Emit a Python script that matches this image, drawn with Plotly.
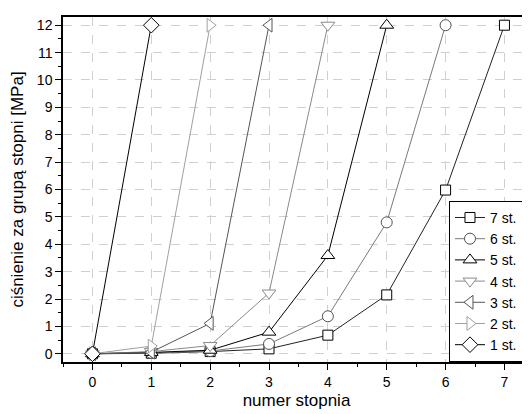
import plotly.graph_objects as go

names = ["7 st.", "6 st.", "5 st.", "4 st.", "3 st.", "2 st.", "1 st."]
x7 = [0, 1, 2, 3, 4, 5, 6, 7]
y7 = [0.0, 0.02, 0.08, 0.18, 0.68, 2.15, 5.98, 12.0]
x6 = [0, 1, 2, 3, 4, 5, 6]
y6 = [0.0, 0.03, 0.1, 0.36, 1.37, 4.8, 12.0]
x5 = [0, 1, 2, 3, 4, 5]
y5 = [0.0, 0.05, 0.13, 0.79, 3.59, 12.0]
x4 = [0, 1, 2, 3, 4]
y4 = [0.0, 0.08, 0.3, 2.22, 12.0]
x3 = [0, 1, 2, 3]
y3 = [0.0, 0.06, 1.11, 12.0]
x2 = [0, 1, 2]
y2 = [0.0, 0.28, 12.0]
x1 = [0, 1]
y1 = [0.0, 12.0]

xs = [x7, x6, x5, x4, x3, x2, x1]
ys = [y7, y6, y5, y4, y3, y2, y1]
symbols = ["square", "circle", "triangle-up", "triangle-down", "triangle-left", "triangle-right", "diamond"]
line_colors = ["#222222", "#7a7a7a", "#000000", "#8a8a8a", "#555555", "#a0a0a0", "#000000"]
marker_colors = ["#000000", "#505050", "#000000", "#8a8a8a", "#555555", "#a0a0a0", "#000000"]
sizes = [10, 11, 12, 12, 12, 12, 12]

fig = go.Figure()
for n, x, y, s, lc, mc, sz in zip(names, xs, ys, symbols, line_colors, marker_colors, sizes):
    fig.add_trace(go.Scatter(
        x=x, y=y, name=n, mode="lines+markers",
        line=dict(color=lc, width=1),
        marker=dict(symbol=s, size=sz, color="white", line=dict(color=mc, width=1)),
    ))

font = "Liberation Sans, Arial, sans-serif"
fig.update_layout(
    width=530, height=414,
    margin=dict(l=54, r=8, t=7, b=60),
    paper_bgcolor="white", plot_bgcolor="white",
    font=dict(family=font, size=14, color="black"),
    showlegend=True,
    legend=dict(x=0.985, y=0.467, xanchor="right", yanchor="top",
                bordercolor="black", borderwidth=1, bgcolor="white",
                font=dict(size=14), tracegroupgap=0, itemwidth=30),
    xaxis=dict(
        range=[-0.5, 7.434], tickmode="array", tickvals=[0, 1, 2, 3, 4, 5, 6, 7],
        ticks="outside", ticklen=6, tickwidth=1, tickcolor="black",
        minor=dict(tickvals=[-0.5, 0.5, 1.5, 2.5, 3.5, 4.5, 5.5, 6.5], ticks="outside", ticklen=3, tickcolor="black", showgrid=False),
        showline=True, linecolor="black", linewidth=1.5, mirror=True,
        showgrid=True, gridcolor="#d0d0d0", griddash="dash", gridwidth=1,
        zeroline=False,
        title=dict(text="numer stopnia", font=dict(size=17), standoff=6),
        tickfont=dict(size=14),
    ),
    yaxis=dict(
        range=[-0.3, 12.3], tickmode="array", tickvals=list(range(0, 13)),
        ticks="outside", ticklen=6, tickwidth=1, tickcolor="black",
        minor=dict(tickvals=[i + 0.5 for i in range(0, 12)], ticks="outside", ticklen=3, tickcolor="black", showgrid=False),
        showline=True, linecolor="black", linewidth=1.5, mirror=False,
        showgrid=True, gridcolor="#d0d0d0", griddash="dash", gridwidth=1,
        zeroline=False,
        title=dict(text="ciśnienie za grupą stopni [MPa]", font=dict(size=17), standoff=10),
        tickfont=dict(size=14),
    ),
)

fig.write_html("out.html")
